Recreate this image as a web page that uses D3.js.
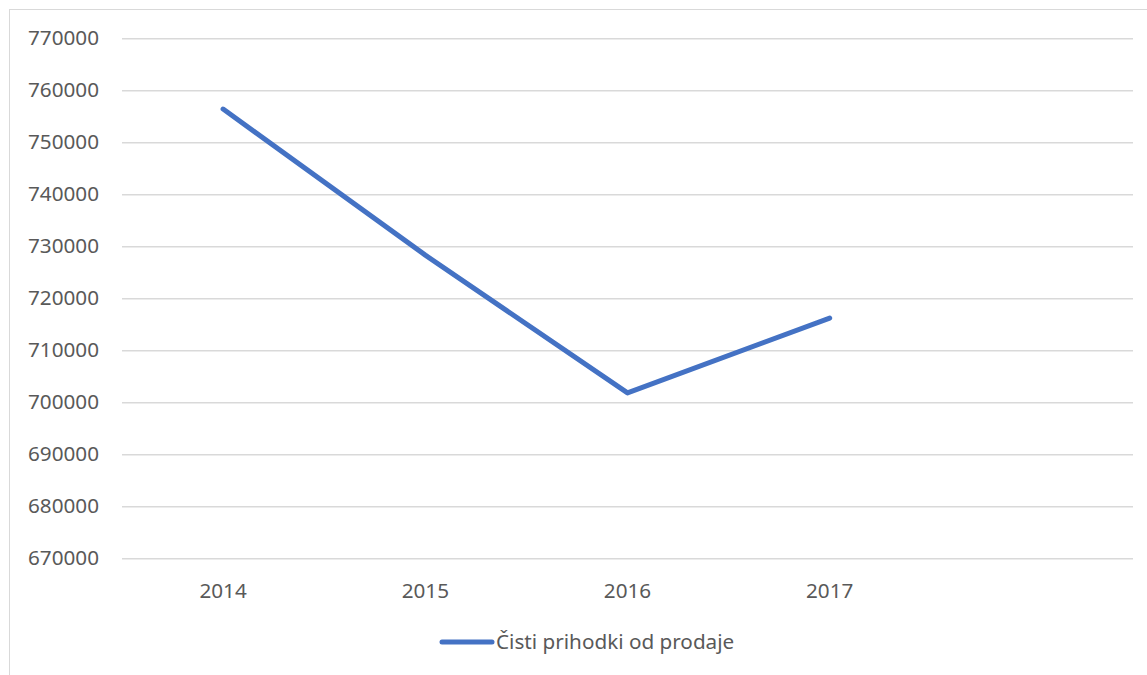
<!DOCTYPE html>
<html>
<head>
<meta charset="utf-8">
<script src="https://cdn.jsdelivr.net/npm/d3@7"></script>
<style>
  html, body { margin: 0; padding: 0; background: #fff; }
  svg { display: block; }
  text { font-family: "Noto Sans", "Open Sans", sans-serif; fill: #595959; }
</style>
</head>
<body>
<svg id="chart" width="1147" height="675"></svg>
<script>
// Net sales revenue by year (the last category slot is left blank)
const categories = ["2014", "2015", "2016", "2017", ""];
const revenue = [756400, 728300, 701800, 716200];
const yTicks = [670000, 680000, 690000, 700000, 710000, 720000, 730000, 740000, 750000, 760000, 770000];
const seriesName = "Čisti prihodki od prodaje";

const svg = d3.select("#chart");
const W = 1147, H = 675;
const plot = { left: 122, right: 1133, top: 38.3, bottom: 558.3 };
const fontSize = 20.7;

// Outer chart frame (runs off the right and bottom edges)
svg.append("rect")
  .attr("x", 9.5).attr("y", 9.5)
  .attr("width", W + 20).attr("height", H + 20)
  .attr("fill", "none").attr("stroke", "#d9d9d9").attr("stroke-width", 1);

const x = d3.scaleBand().domain(categories).range([plot.left, plot.right]);
const y = d3.scaleLinear().domain([670000, 770000]).range([plot.bottom, plot.top]);

// Horizontal gridlines with value labels
const yAxis = d3.axisLeft(y).tickValues(yTicks).tickFormat(d3.format("d"))
  .tickSize(-(plot.right - plot.left)).tickPadding(23);
const gy = svg.append("g").attr("transform", `translate(${plot.left},0)`).call(yAxis);
gy.select(".domain").remove();
gy.selectAll(".tick line").attr("stroke", "#d9d9d9").attr("stroke-width", 1.5);
gy.selectAll(".tick text").attr("font-size", fontSize).attr("fill", "#595959")
  .style("font-family", '"Noto Sans", sans-serif');

// Category labels
const xAxis = d3.axisBottom(x).tickSize(0).tickPadding(25);
const gx = svg.append("g").attr("transform", `translate(0,${plot.bottom})`).call(xAxis);
gx.select(".domain").remove();
gx.selectAll(".tick text").attr("font-size", fontSize).attr("fill", "#595959")
  .style("font-family", '"Noto Sans", sans-serif');

// Revenue line
const line = d3.line()
  .x((d, i) => x(categories[i]) + x.bandwidth() / 2)
  .y(d => y(d));
svg.append("path")
  .datum(revenue)
  .attr("d", line)
  .attr("fill", "none")
  .attr("stroke", "#4472C4")
  .attr("stroke-width", 5)
  .attr("stroke-linecap", "round")
  .attr("stroke-linejoin", "round");

// Legend
const lg = svg.append("g").attr("transform", "translate(442,642)");
lg.append("line").attr("x1", 0).attr("x2", 50).attr("y1", 0).attr("y2", 0)
  .attr("stroke", "#4472C4").attr("stroke-width", 5).attr("stroke-linecap", "round");
lg.append("text").attr("x", 54).attr("y", 0).attr("dy", "0.35em")
  .attr("font-size", fontSize).text(seriesName);
</script>
</body>
</html>
